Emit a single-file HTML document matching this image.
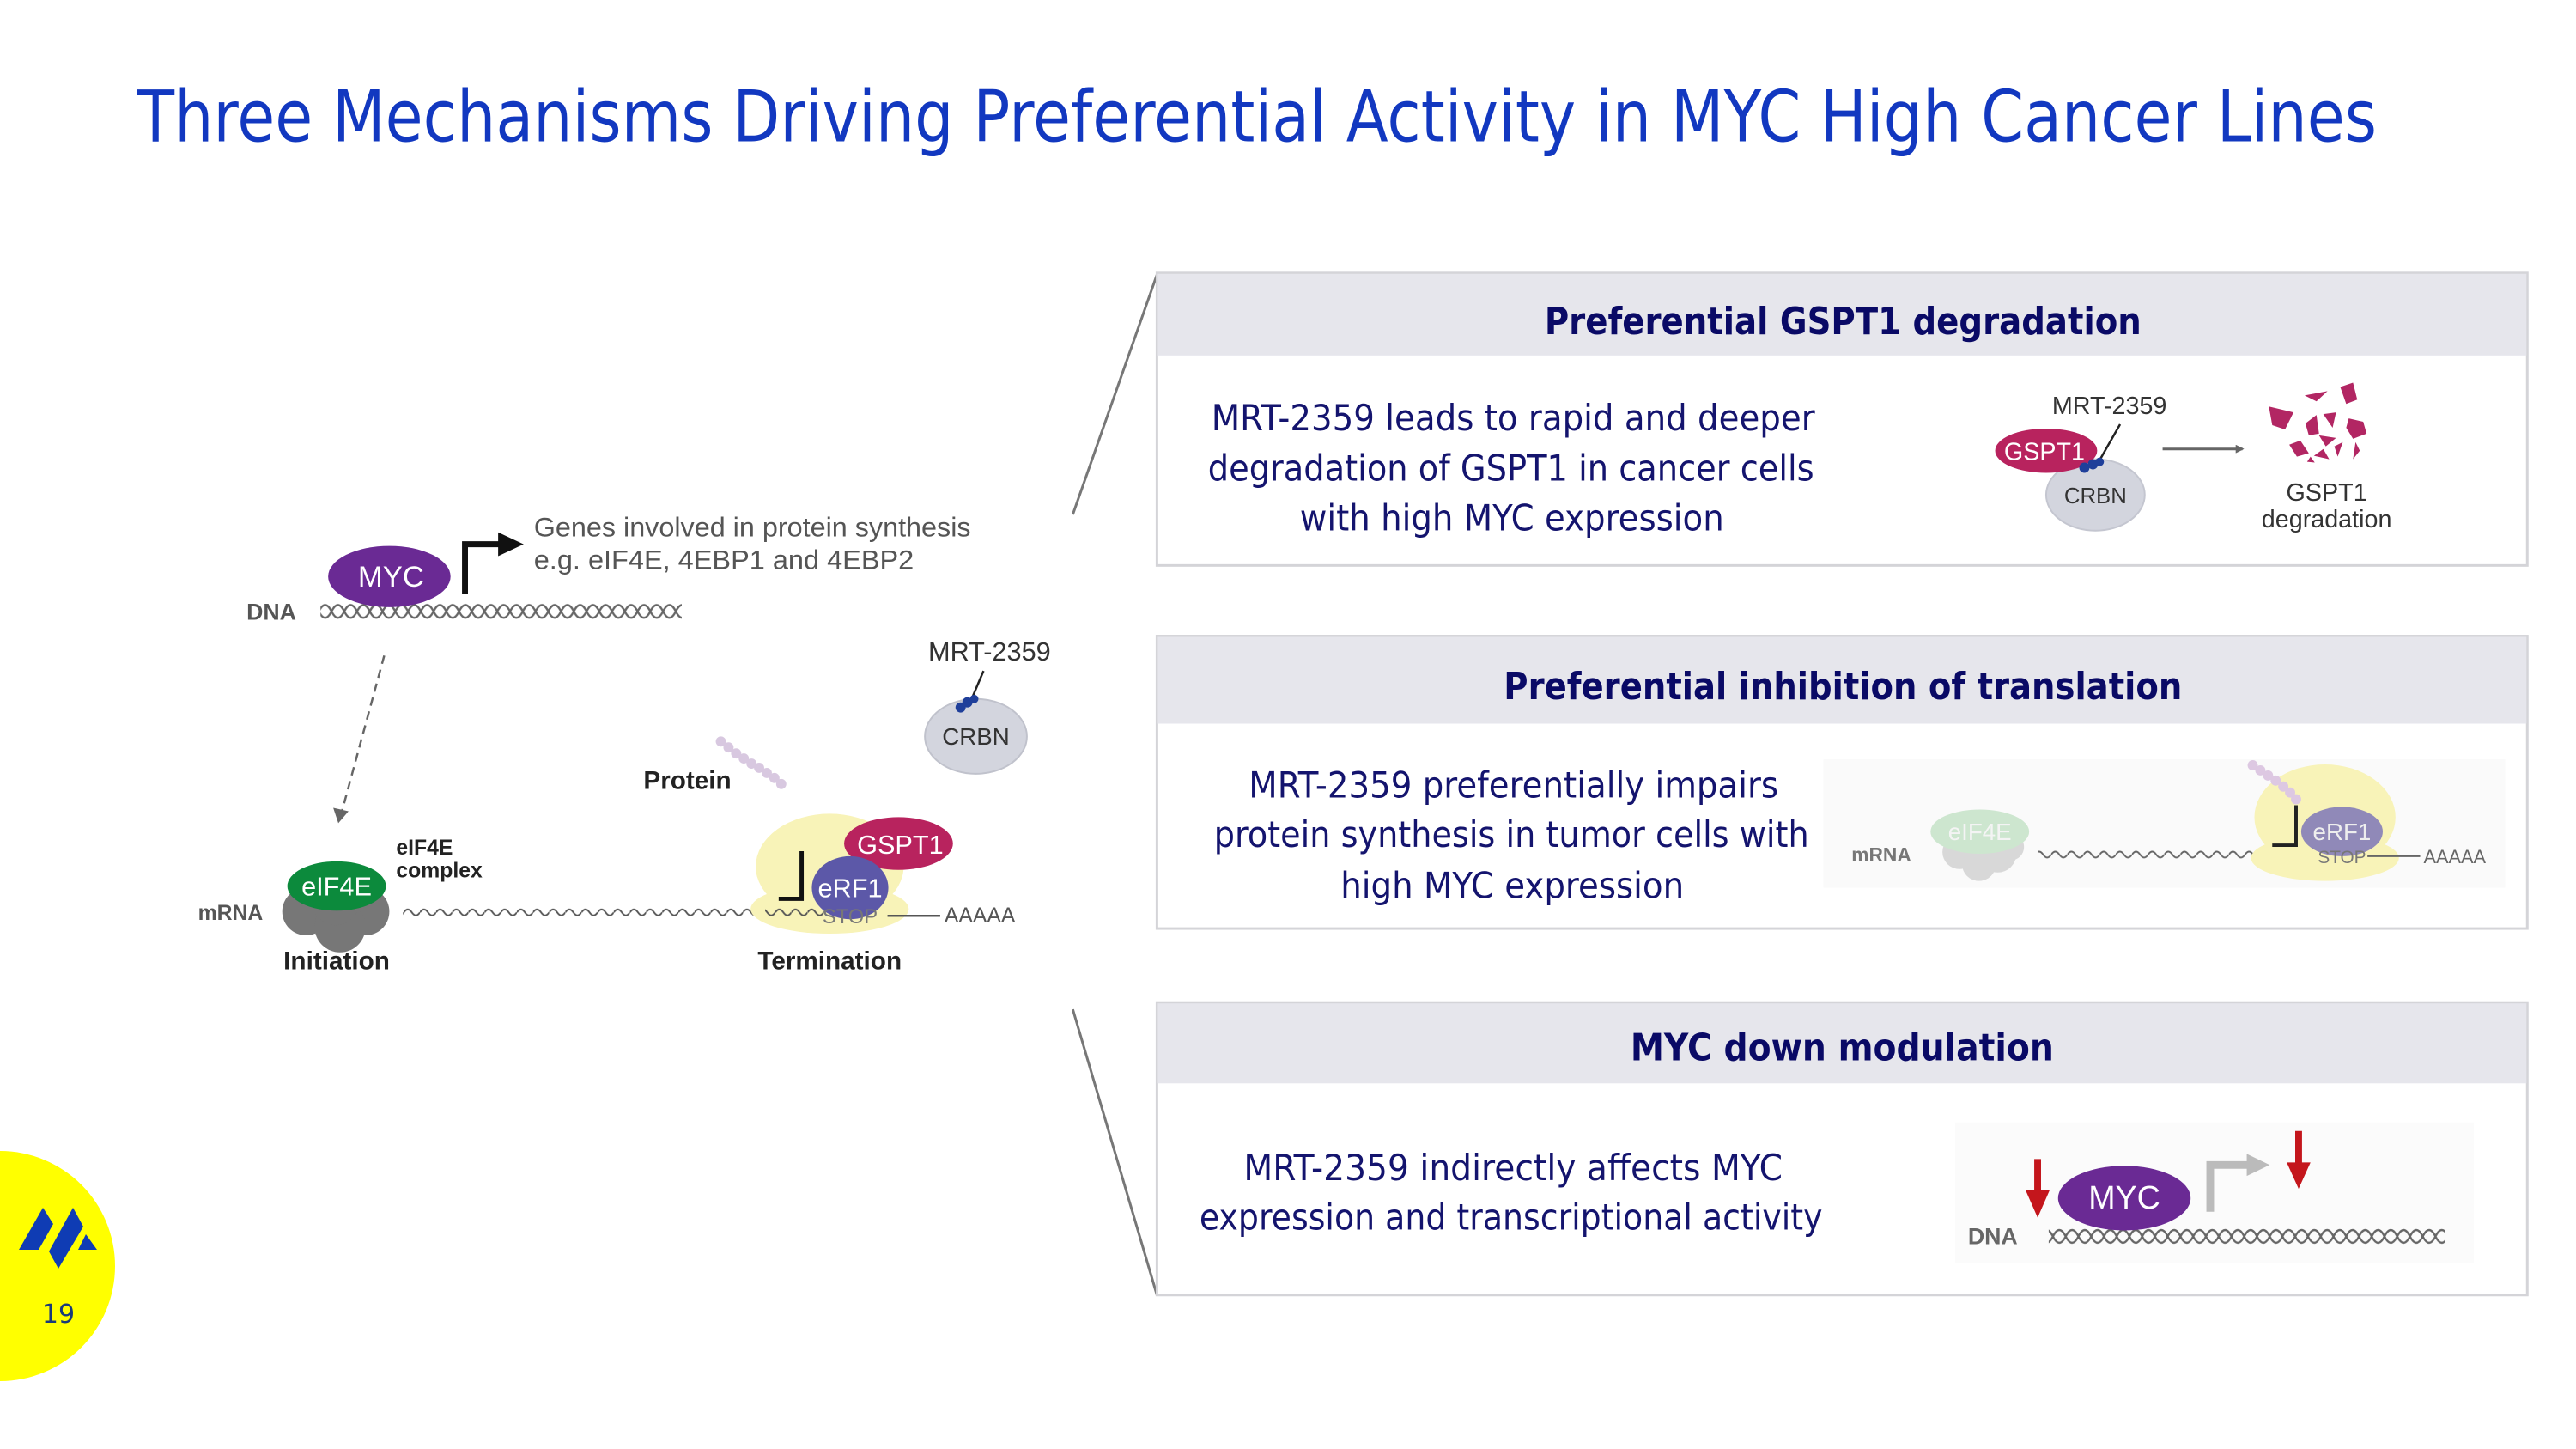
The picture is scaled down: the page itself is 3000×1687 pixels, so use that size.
<!DOCTYPE html>
<html><head><meta charset="utf-8"><style>
html,body{margin:0;padding:0;background:#fff;}
svg{display:block;}
</style></head><body>
<svg width="3000" height="1687" viewBox="0 0 3000 1687" xmlns="http://www.w3.org/2000/svg">
<defs>
<pattern id="helix" patternUnits="userSpaceOnUse" x="0" y="707" width="30" height="24">
<path d="M0,12 Q7.5,-3 15,12 T30,12" fill="none" stroke="#666" stroke-width="2.4"/>
<path d="M0,12 Q7.5,27 15,12 T30,12" fill="none" stroke="#666" stroke-width="2.4"/>
</pattern>
<pattern id="helix2" patternUnits="userSpaceOnUse" x="0" y="1442" width="30" height="24">
<path d="M0,12 Q7.5,-3 15,12 T30,12" fill="none" stroke="#666" stroke-width="2.4"/>
<path d="M0,12 Q7.5,27 15,12 T30,12" fill="none" stroke="#666" stroke-width="2.4"/>
</pattern>
<pattern id="wave" patternUnits="userSpaceOnUse" x="0" y="1066" width="19" height="14">
<path d="M0,7 Q4.75,0 9.5,7 T19,7" fill="none" stroke="#555" stroke-width="2"/>
</pattern>
<pattern id="wave2" patternUnits="userSpaceOnUse" x="0" y="998" width="19" height="14">
<path d="M0,7 Q4.75,0 9.5,7 T19,7" fill="none" stroke="#666" stroke-width="2"/>
</pattern>
<marker id="ah" markerWidth="10" markerHeight="10" refX="8" refY="5" orient="auto" markerUnits="userSpaceOnUse">
<path d="M0,0 L10,5 L0,10z" fill="#666"/>
</marker>
</defs>
<g transform="scale(0.99)">
<text x="161" y="166" font-family="DejaVu Sans, Liberation Sans, sans-serif" font-size="84" fill="#1238c0" textLength="2635" lengthAdjust="spacingAndGlyphs">Three Mechanisms Driving Preferential Activity in MYC High Cancer Lines</text>

<line x1="1262" y1="605" x2="1361" y2="323" stroke="#777" stroke-width="3"/>
<line x1="1262" y1="1187" x2="1361" y2="1523" stroke="#777" stroke-width="3"/>

<g font-family="DejaVu Sans, Liberation Sans, sans-serif">
<rect x="1361" y="321" width="1612" height="344" fill="#fff" stroke="#d4d4d8" stroke-width="3"/>
<rect x="1362" y="322" width="1610" height="96" fill="#e6e6ec"/>
<text x="1817" y="393" font-size="44" font-weight="bold" fill="#0a0a66" textLength="702" lengthAdjust="spacingAndGlyphs">Preferential GSPT1 degradation</text>
<g font-size="42" fill="#14146e">
<text x="1425" y="506" textLength="710" lengthAdjust="spacingAndGlyphs">MRT-2359 leads to rapid and deeper</text>
<text x="1421" y="565" textLength="713" lengthAdjust="spacingAndGlyphs">degradation of GSPT1 in cancer cells</text>
<text x="1529" y="624" textLength="499" lengthAdjust="spacingAndGlyphs">with high MYC expression</text>
</g>

<rect x="1361" y="748" width="1612" height="344" fill="#fff" stroke="#d4d4d8" stroke-width="3"/>
<rect x="1362" y="749" width="1610" height="102" fill="#e6e6ec"/>
<text x="1769" y="822" font-size="44" font-weight="bold" fill="#0a0a66" textLength="798" lengthAdjust="spacingAndGlyphs">Preferential inhibition of translation</text>
<g font-size="42" fill="#14146e">
<text x="1469" y="938" textLength="623" lengthAdjust="spacingAndGlyphs">MRT-2359 preferentially impairs</text>
<text x="1428" y="996" textLength="700" lengthAdjust="spacingAndGlyphs">protein synthesis in tumor cells with</text>
<text x="1577" y="1056" textLength="404" lengthAdjust="spacingAndGlyphs">high MYC expression</text>
</g>

<rect x="1361" y="1179" width="1612" height="344" fill="#fff" stroke="#d4d4d8" stroke-width="3"/>
<rect x="1362" y="1180" width="1610" height="94" fill="#e6e6ec"/>
<text x="1918" y="1247" font-size="44" font-weight="bold" fill="#0a0a66" textLength="498" lengthAdjust="spacingAndGlyphs">MYC down modulation</text>
<g font-size="42" fill="#14146e">
<text x="1463" y="1388" textLength="634" lengthAdjust="spacingAndGlyphs">MRT-2359 indirectly affects MYC</text>
<text x="1411" y="1446" textLength="733" lengthAdjust="spacingAndGlyphs">expression and transcriptional activity</text>
</g>
</g>

<g font-family="Liberation Sans, sans-serif">
<text x="2414" y="487" font-size="29" fill="#333">MRT-2359</text>
<ellipse cx="2465" cy="582" rx="58" ry="42" fill="#d3d5de" stroke="#c4c6d0" stroke-width="2"/>
<text x="2465" y="592" font-size="26" fill="#333" text-anchor="middle">CRBN</text>
<ellipse cx="2407" cy="530" rx="60" ry="26" fill="#b8235e"/>
<text x="2405" y="541" font-size="29" fill="#fff" text-anchor="middle">GSPT1</text>
<line x1="2494" y1="499" x2="2470" y2="541" stroke="#222" stroke-width="2.5"/>
<circle cx="2452" cy="550" r="6" fill="#1f3f9a"/><circle cx="2462" cy="546" r="6" fill="#1f3f9a"/><circle cx="2470" cy="543" r="5" fill="#1f3f9a"/>
<line x1="2544" y1="528" x2="2638" y2="528" stroke="#666" stroke-width="3" marker-end="url(#ah)"/>
<g fill="#b22663" transform="translate(28,0)">
<polygon points="2641,478 2670,485 2660,505 2645,500"/>
<polygon points="2683,465 2710,460 2697,472"/>
<polygon points="2725,455 2740,450 2745,470 2732,475"/>
<polygon points="2684,498 2697,488 2700,510 2688,512"/>
<polygon points="2705,487 2720,485 2716,503"/>
<polygon points="2735,492 2752,496 2756,510 2740,516 2732,503"/>
<polygon points="2665,523 2678,518 2688,533 2674,537"/>
<polygon points="2700,512 2720,515 2708,525"/>
<polygon points="2694,536 2705,528 2712,540"/>
<polygon points="2718,525 2728,520 2722,537"/>
<polygon points="2690,537 2695,544 2686,543"/>
<polygon points="2743,520 2748,530 2740,540"/>
</g>
<text x="2737" y="589" font-size="29" fill="#333" text-anchor="middle">GSPT1</text>
<text x="2737" y="620" font-size="29" fill="#333" text-anchor="middle">degradation</text>
</g>

<g font-family="Liberation Sans, sans-serif">
<rect x="2145" y="893" width="802" height="151" fill="#fafafa"/>
<text x="2178" y="1013" font-size="23" font-weight="bold" fill="#777">mRNA</text>
<g fill="#d8d8d8">
<circle cx="2305" cy="1002" r="20"/><circle cx="2350" cy="1004" r="22"/><circle cx="2328" cy="1016" r="20"/><circle cx="2365" cy="996" r="16"/>
</g>
<ellipse cx="2329" cy="978" rx="58" ry="26" fill="#cde6cf"/>
<text x="2329" y="988" font-size="28" fill="#f4f4f4" text-anchor="middle">eIF4E</text>
<rect x="2397" y="998" width="340" height="14" fill="url(#wave2)"/>
<ellipse cx="2735" cy="961" rx="83" ry="62" fill="#f8f3b8"/>
<ellipse cx="2735" cy="1009" rx="87" ry="27" fill="#f8f3b8"/>
<g fill="#ddc8e2"><circle cx="2650" cy="900" r="6"/><circle cx="2659" cy="906" r="6"/><circle cx="2668" cy="912" r="6"/><circle cx="2677" cy="918" r="6"/><circle cx="2686" cy="925" r="6"/><circle cx="2694" cy="932" r="6"/><circle cx="2701" cy="940" r="6"/></g>
<ellipse cx="2755" cy="978" rx="48" ry="29" fill="#9089b8"/>
<text x="2755" y="988" font-size="28" fill="#eee" text-anchor="middle">eRF1</text>
<path d="M2701,947 L2701,994 L2673,994" fill="none" stroke="#222" stroke-width="4"/>
<text x="2755" y="1015" font-size="21" fill="#777" text-anchor="middle">STOP</text>
<line x1="2785" y1="1007" x2="2847" y2="1007" stroke="#666" stroke-width="2"/>
<text x="2851" y="1015" font-size="22" fill="#666">AAAAA</text>
</g>

<g font-family="Liberation Sans, sans-serif">
<rect x="2300" y="1320" width="610" height="165" fill="#fbfbfb"/>
<rect x="2410" y="1442" width="466" height="24" fill="url(#helix2)"/>
<text x="2315" y="1463" font-size="27" font-weight="bold" fill="#666">DNA</text>
<ellipse cx="2499" cy="1409" rx="78" ry="38" fill="#6a2a94"/>
<text x="2499" y="1421" font-size="38" fill="#fff" text-anchor="middle">MYC</text>
<path d="M2600,1425 L2600,1370 L2645,1370" fill="none" stroke="#bbb" stroke-width="9"/>
<path d="M2643,1357 L2670,1370 L2643,1383z" fill="#bbb"/>
<path d="M2397,1363 L2397,1405" stroke="#c4161c" stroke-width="8"/>
<path d="M2383,1400 L2397,1432 L2411,1400z" fill="#c4161c"/>
<path d="M2704,1330 L2704,1372" stroke="#c4161c" stroke-width="8"/>
<path d="M2690,1367 L2704,1398 L2718,1367z" fill="#c4161c"/>
</g>

<g font-family="Liberation Sans, sans-serif">
<rect x="377" y="707" width="425" height="24" fill="url(#helix)"/>
<text x="290" y="729" font-size="27" font-weight="bold" fill="#555">DNA</text>
<ellipse cx="458" cy="678" rx="72" ry="36" fill="#6a2a94"/>
<text x="460" y="690" font-size="35" fill="#fff" text-anchor="middle">MYC</text>
<path d="M547,698 L547,640 L590,640" fill="none" stroke="#111" stroke-width="7"/>
<path d="M586,626 L616,640 L586,654z" fill="#111"/>
<text x="628" y="631" font-size="32" fill="#555" textLength="514" lengthAdjust="spacingAndGlyphs">Genes involved in protein synthesis</text>
<text x="628" y="669" font-size="32" fill="#555" textLength="447" lengthAdjust="spacingAndGlyphs">e.g. eIF4E, 4EBP1 and 4EBP2</text>

<line x1="452" y1="771" x2="402" y2="955" stroke="#666" stroke-width="2.5" stroke-dasharray="10,7"/>
<path d="M392,950 L398,968 L410,954z" fill="#666"/>

<text x="466" y="1005" font-size="25" font-weight="bold" fill="#222">eIF4E</text>
<text x="466" y="1032" font-size="25" font-weight="bold" fill="#222">complex</text>
<text x="233" y="1082" font-size="25" font-weight="bold" fill="#555">mRNA</text>
<g fill="#777">
<circle cx="360" cy="1072" r="28"/><circle cx="430" cy="1072" r="28"/><circle cx="400" cy="1090" r="30"/><circle cx="395" cy="1060" r="28"/>
</g>
<ellipse cx="396" cy="1042" rx="58" ry="29" fill="#0c8a3c"/>
<text x="396" y="1053" font-size="31" fill="#fff" text-anchor="middle">eIF4E</text>
<rect x="474" y="1066" width="495" height="14" fill="url(#wave)"/>
<text x="396" y="1140" font-size="30" font-weight="bold" fill="#222" text-anchor="middle">Initiation</text>

<ellipse cx="976" cy="1019" rx="87" ry="62" fill="#f8f3b8"/>
<ellipse cx="976" cy="1069" rx="93" ry="29" fill="#f8f3b8"/>
<rect x="900" y="1066" width="70" height="14" fill="url(#wave)"/>
<ellipse cx="1057" cy="992" rx="64" ry="31" fill="#b8235e"/>
<text x="1059" y="1004" font-size="31" fill="#fff" text-anchor="middle">GSPT1</text>
<ellipse cx="1000" cy="1044" rx="45" ry="37" fill="#5c58a8"/>
<text x="1000" y="1055" font-size="31" fill="#fff" text-anchor="middle">eRF1</text>
<path d="M943,1001 L943,1057 L916,1057" fill="none" stroke="#111" stroke-width="5"/>
<text x="1000" y="1086" font-size="24" fill="#777" text-anchor="middle">STOP</text>
<line x1="1044" y1="1077" x2="1106" y2="1077" stroke="#555" stroke-width="2.5"/>
<text x="1111" y="1085" font-size="25" fill="#555">AAAAA</text>
<text x="976" y="1140" font-size="30" font-weight="bold" fill="#222" text-anchor="middle">Termination</text>

<text x="757" y="928" font-size="30" font-weight="bold" fill="#222">Protein</text>
<g fill="#d8c8e0"><circle cx="848" cy="872" r="6"/><circle cx="857" cy="879" r="6"/><circle cx="866" cy="886" r="6"/><circle cx="875" cy="892" r="6"/><circle cx="884" cy="898" r="6"/><circle cx="893" cy="903" r="6"/><circle cx="902" cy="909" r="6"/><circle cx="911" cy="915" r="6"/><circle cx="919" cy="922" r="6"/></g>

<ellipse cx="1148" cy="866" rx="60" ry="44" fill="#d3d5de" stroke="#c0c2cc" stroke-width="2"/>
<text x="1148" y="876" font-size="28" fill="#333" text-anchor="middle">CRBN</text>
<text x="1164" y="777" font-size="31" fill="#333" text-anchor="middle">MRT-2359</text>
<line x1="1157" y1="789" x2="1143" y2="822" stroke="#222" stroke-width="2.5"/>
<circle cx="1130" cy="832" r="6" fill="#1f3f9a"/><circle cx="1138" cy="826" r="6" fill="#1f3f9a"/><circle cx="1146" cy="822" r="5" fill="#1f3f9a"/>
</g>
</g>

<circle cx="0" cy="1474" r="134" fill="#ffff00"/>
<g fill="#0f3cb4">
<polygon points="22,1455 50,1406 62,1425 45,1455"/>
<polygon points="57,1457 85,1406 97,1428 68,1477"/>
<polygon points="91,1455 100,1437 113,1455"/>
</g>
<text x="68" y="1540" font-family="DejaVu Sans, sans-serif" font-size="30" fill="#1a3a7a" text-anchor="middle">19</text>
</svg>
</body></html>
